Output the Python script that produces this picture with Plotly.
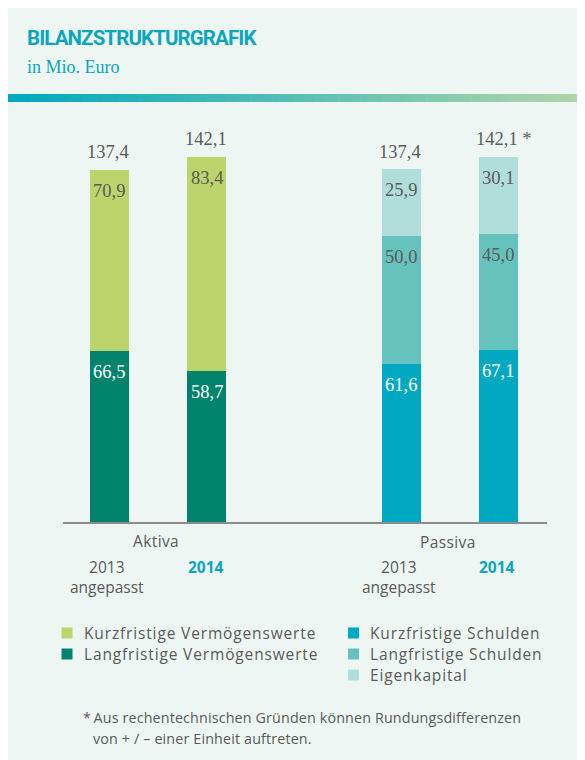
import plotly.graph_objects as go

# ---------------- data ----------------
categories = ["Aktiva 2013", "Aktiva 2014", "spacer", "Passiva 2013", "Passiva 2014"]
aktiva_cats = ["Aktiva 2013", "Aktiva 2014"]
passiva_cats = ["Passiva 2013", "Passiva 2014"]

langfristige_vermoegenswerte = [66.5, 58.7]
kurzfristige_vermoegenswerte = [70.9, 83.4]
kurzfristige_schulden = [61.6, 67.1]
langfristige_schulden = [50.0, 45.0]
eigenkapital = [25.9, 30.1]
summe_aktiva = [137.4, 142.1]
summe_passiva = [137.4, 142.1]
summe_labels_aktiva = ["137,4", "142,1"]
summe_labels_passiva = ["137,4", "142,1 *"]

year_labels = ["2013<br>angepasst", "2014"]
group_labels = ["Aktiva", "Passiva"]

# ---------------- styling ----------------
W, H = 585, 760
OFF = 8  # page offset of the figure (body margin)
ML, MR, MT, MB = 55, 46, 112, 246
PW = W - ML - MR
PH = H - MT - MB
BASE = H - MB  # figure px of baseline

BG = "#edf6f3"
GRAY = "#5a5a5a"
TEAL = "#0ba6bd"
SERIF = "Liberation Serif, Times New Roman, serif"
SANS = "Open Sans, Noto Sans, sans-serif"
TITLEF = "Roboto, Open Sans, sans-serif"

C_KV = "#bdd46c"
C_LV = "#00836c"
C_KS = "#00a8c1"
C_LS = "#66c2bd"
C_EK = "#b1dedb"


def px_x(page_px):
    return (page_px - OFF - ML) / PW


def px_y(page_py):
    return (BASE - (page_py - OFF)) / PH


def spaced(txt, ls):
    return '<span style="letter-spacing:%spx">%s</span>' % (ls, txt)


fig = go.Figure()

series = [
    (aktiva_cats, langfristige_vermoegenswerte, C_LV, "Langfristige Vermögenswerte"),
    (aktiva_cats, kurzfristige_vermoegenswerte, C_KV, "Kurzfristige Vermögenswerte"),
    (passiva_cats, kurzfristige_schulden, C_KS, "Kurzfristige Schulden"),
    (passiva_cats, langfristige_schulden, C_LS, "Langfristige Schulden"),
    (passiva_cats, eigenkapital, C_EK, "Eigenkapital"),
]
for cats, vals, col, name in series:
    fig.add_trace(go.Bar(x=cats, y=vals, name=name, marker=dict(color=col, line=dict(width=0)),
                         width=0.4, showlegend=False, hoverinfo="name+y"))

annotations = []


def fmt(v):
    return f"{v:.1f}".replace(".", ",")


def seg_labels(cats, stacks, colors):
    for i, c in enumerate(cats):
        cum = 0
        for vals, tc in zip(stacks, colors):
            cum += vals[i]
            annotations.append(dict(x=c, y=cum, xref="x", yref="y", text=fmt(vals[i]),
                                    showarrow=False, yanchor="middle", yshift=-21,
                                    font=dict(family=SERIF, size=18.5, color=tc)))


seg_labels(aktiva_cats, [langfristige_vermoegenswerte, kurzfristige_vermoegenswerte], ["white", GRAY])
seg_labels(passiva_cats, [kurzfristige_schulden, langfristige_schulden, eigenkapital], ["white", GRAY, GRAY])

for cats, tots, labs in [(aktiva_cats, summe_aktiva, summe_labels_aktiva),
                         (passiva_cats, summe_passiva, summe_labels_passiva)]:
    for c, t, l in zip(cats, tots, labs):
        annotations.append(dict(x=c, y=t, xref="x", yref="y", text=l, showarrow=False,
                                yanchor="middle", yshift=18, xshift=6 if "*" in l else -1,
                                font=dict(family=SERIF, size=18.5, color=GRAY)))

# category labels
for gpos, glab, gy in [(0.5, group_labels[0], 541), (3.5, group_labels[1], 542)]:
    annotations.append(dict(x=gpos, y=px_y(gy), xref="x", yref="paper", text=spaced(glab, 0.4), showarrow=False,
                            yanchor="middle", xshift=-2,
                            font=dict(family=SANS, size=15.5, color=GRAY)))
for cats in [aktiva_cats, passiva_cats]:
    annotations.append(dict(x=cats[0], y=px_y(554), xref="x", yref="paper", text=year_labels[0],
                            showarrow=False, yanchor="top", xshift=-2,
                            font=dict(family=SANS, size=15.5, color=GRAY)))
    annotations.append(dict(x=cats[1], y=px_y(554), xref="x", yref="paper", text="<b>" + year_labels[1] + "</b>",
                            showarrow=False, yanchor="top", xshift=-1,
                            font=dict(family=SANS, size=15.5, color=TEAL)))

# title
annotations.append(dict(x=px_x(25), y=px_y(38.5), xref="paper", yref="paper",
                        text="<b>" + spaced("BILANZSTRUKTURGRAFIK", -0.9) + "</b>",
                        showarrow=False, xanchor="left", yanchor="middle",
                        font=dict(family=TITLEF, size=20.5, color=TEAL)))
annotations.append(dict(x=px_x(25), y=px_y(67), xref="paper", yref="paper", text="in Mio. Euro",
                        showarrow=False, xanchor="left", yanchor="middle",
                        font=dict(family=SERIF, size=18, color=TEAL)))

shapes = []
# gradient stripe
n = 80
c0 = (0, 168, 192)
c1 = (180, 214, 168)
x_start, x_end = 8, W + 10
for k in range(n):
    t = k / (n - 1)
    col = tuple(round(a + (b - a) * t) for a, b in zip(c0, c1))
    xa = x_start + (x_end - x_start) * k / n
    xb = x_start + (x_end - x_start) * (k + 1) / n + 0.6
    shapes.append(dict(type="rect", xref="paper", yref="paper", x0=px_x(xa), x1=px_x(xb),
                       y0=px_y(102), y1=px_y(94), fillcolor="rgb(%d,%d,%d)" % col,
                       line=dict(width=0), layer="below"))

legend_items = [
    (61.5, 633, C_KV, "Kurzfristige Vermögenswerte"),
    (61.5, 654, C_LV, "Langfristige Vermögenswerte"),
    (348, 633, C_KS, "Kurzfristige Schulden"),
    (348, 654, C_LS, "Langfristige Schulden"),
    (348, 675, C_EK, "Eigenkapital"),
]
for lx, ly, col, txt in legend_items:
    shapes.append(dict(type="rect", xref="paper", yref="paper", x0=px_x(lx), x1=px_x(lx + 11),
                       y0=px_y(ly + 5.5), y1=px_y(ly - 5.5), fillcolor=col, line=dict(width=0)))
    annotations.append(dict(x=px_x(lx + 20), y=px_y(ly), xref="paper", yref="paper", text=spaced(txt, 0.85),
                            showarrow=False, xanchor="left", yanchor="middle",
                            font=dict(family=SANS, size=15.5, color=GRAY)))

# footnote
annotations.append(dict(x=px_x(81), y=px_y(717), xref="paper", yref="paper",
                        text=spaced("*\u2009Aus rechentechnischen Gründen können Rundungsdifferenzen", 0.15),
                        showarrow=False, xanchor="left", yanchor="middle",
                        font=dict(family=SANS, size=14.3, color=GRAY)))
annotations.append(dict(x=px_x(91), y=px_y(738), xref="paper", yref="paper",
                        text=spaced("von + / \u2013 einer Einheit auftreten.", 0.15),
                        showarrow=False, xanchor="left", yanchor="middle",
                        font=dict(family=SANS, size=14.3, color=GRAY)))

fig.update_layout(
    width=W, height=H,
    margin=dict(l=ML, r=MR, t=MT, b=MB, pad=0),
    paper_bgcolor=BG,
    plot_bgcolor="rgba(0,0,0,0)",
    barmode="stack",
    separators=",.",
    showlegend=False,
    annotations=annotations,
    shapes=shapes,
    xaxis=dict(type="category", categoryorder="array", categoryarray=categories,
               range=[-0.478, 4.5], showticklabels=False, ticks="", showgrid=False,
               zeroline=False, showline=True, linecolor="#8c8c8c", linewidth=2, fixedrange=True),
    yaxis=dict(range=[0, 156.7], visible=False, showgrid=False, zeroline=False, fixedrange=True),
)

fig.write_html("out.html")
